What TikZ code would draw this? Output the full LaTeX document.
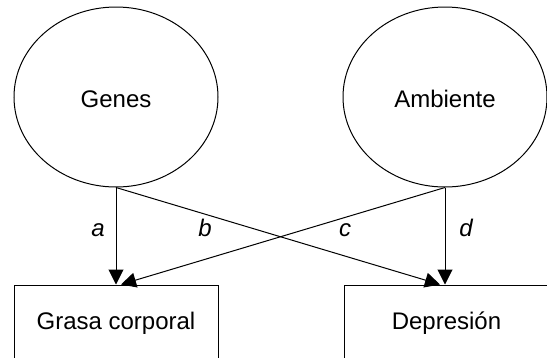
\documentclass[tikz,border=0pt]{standalone}
\usepackage{fontspec}
\setmainfont{Liberation Sans}
\usetikzlibrary{shapes.geometric,arrows.meta,calc}
\begin{document}
\begin{tikzpicture}[x=1pt,y=1pt,
  every node/.style={font=\fontsize{24}{28}\selectfont},
  latent/.style={draw, ellipse, line width=1pt, minimum width=204pt, minimum height=180pt, inner sep=0pt},
  observed/.style={draw, rectangle, line width=1pt, inner sep=0pt},
  path coef/.style={line width=1pt, -{Triangle[length=15pt,width=15pt]}},
  coef/.style={font=\fontsize{24}{28}\selectfont\itshape, anchor=base}]
  \clip (0,0) rectangle (547,-357);
  \useasboundingbox (0,0) rectangle (547,-357);

  % latent causes
  \node[latent] (genes) at (116,-97) {};
  \node[latent] (amb) at (445,-97) {};
  \node[anchor=base] (genesT) at (116,-107) {Genes};
  \node[anchor=base] (ambT) at (445,-107) {Ambiente};

  % observed outcomes (boxes run off the bottom/right edges)
  \node[observed, minimum width=204pt, minimum height=140pt] (grasa) at (116,-355) {};
  \node[observed, minimum width=216pt, minimum height=140pt] (dep) at (452.5,-355) {};
  \node[anchor=base] (grasaT) at (116,-329) {Grasa corporal};
  \node[anchor=base] (depT) at (446.5,-329) {Depresión};

  % paths
  \draw[path coef] (genes.south) -- (genes.south |- grasa.north);
  \draw[path coef] (amb.south) -- (amb.south |- dep.north);
  \draw[path coef] (genes.south) -- ($(amb.south |- dep.north)+(-5,0)$);
  \draw[path coef] (amb.south) -- ($(genes.south |- grasa.north)+(5,0)$);

  % path coefficients
  \node[coef] (la) at (98,-236) {a};
  \node[coef] (lb) at (205,-236) {b};
  \node[coef] (lc) at (345,-236) {c};
  \node[coef] (ld) at (466,-236) {d};
\end{tikzpicture}
\end{document}
